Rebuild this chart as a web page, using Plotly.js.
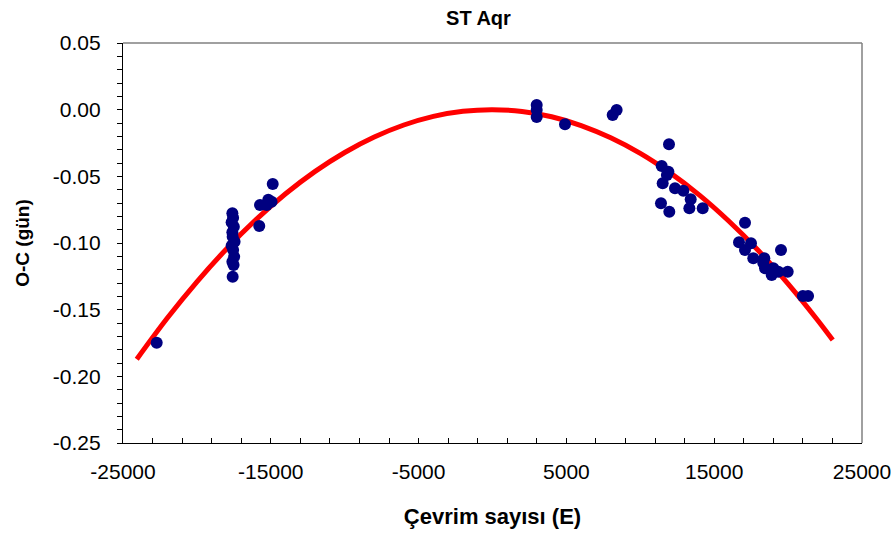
<!DOCTYPE html>
<html>
<head>
<meta charset="utf-8">
<script src="https://cdn.plot.ly/plotly-3.0.1.min.js"></script>
<style>html,body{margin:0;padding:0;background:#fff;}#chart{width:891px;height:536px;}</style>
</head>
<body>
<div id="chart"></div>
<script>
// Observed O-C points (cycle number E, O-C in days)
var obsE = [
  -22720,
  -17600, -17550, -17650, -17500, -17600, -17580, -17450, -17650, -17550, -17480, -17600, -17520, -17580,
  -15780, -15730, -15280, -15170, -14950, -14870,
  2990, 2990, 2990, 4905, 8130, 8400,
  11942, 11448, 11800, 11900, 11515, 12348, 12912, 11400, 11962, 13410, 13320, 14222,
  17084, 16678, 17490, 17084, 17645, 18390, 19520, 18440, 19000, 18890, 19340, 19973, 18320,
  21000, 21350
];
var obsOC = [
  -0.1748,
  -0.0777, -0.0810, -0.0845, -0.0878, -0.0920, -0.0953, -0.0990, -0.1020, -0.1053, -0.1103, -0.1140, -0.1165, -0.1253,
  -0.0873, -0.0715, -0.0715, -0.0675, -0.0690, -0.0557,
  0.0035, -0.0003, -0.0055, -0.0110, -0.0040, -0.0003,
  -0.0260, -0.0423, -0.0490, -0.0465, -0.0552, -0.0590, -0.0608, -0.0702, -0.0765, -0.0672, -0.0740, -0.0740,
  -0.0848, -0.0995, -0.1002, -0.1053, -0.1115, -0.1115, -0.1053, -0.1190, -0.1190, -0.1240, -0.1215, -0.1215, -0.1150,
  -0.1398, -0.1398
];
// Fitted curve
var fitE = [-24070, -22000, -20000, -18000, -16000, -14000, -12000, -10000, -8000, -6000, -4000, -2000, 0,
            2000, 4000, 6000, 8000, 10000, 12000, 14000, 16000, 18000, 20000, 22000, 23020];
var fitOC = [-0.1872, -0.1563, -0.1291, -0.1045, -0.0825, -0.0631, -0.0463, -0.0321, -0.0205, -0.0115, -0.0050, -0.0012, 0.0000,
             -0.0014, -0.0053, -0.0119, -0.0211, -0.0328, -0.0472, -0.0641, -0.0837, -0.1058, -0.1306, -0.1579, -0.1728];

// Tick labels
var xTickVals = [-25000, -15000, -5000, 5000, 15000, 25000];
var xTickText = ['-25000', '-15000', '-5000', '5000', '15000', '25000'];
var yTickVals = [0.05, 0.00, -0.05, -0.10, -0.15, -0.20, -0.25];
var yTickText = ['0.05', '0.00', '-0.05', '-0.10', '-0.15', '-0.20', '-0.25'];

var titleText = 'ST Aqr';
var xTitle = 'Çevrim sayısı (E)';
var yTitle = 'O-C (gün)';

var FONT = 'Liberation Sans, Arial, sans-serif';

var traces = [
  {x: fitE, y: fitOC, type: 'scatter', mode: 'lines',
   line: {color: '#FF0000', width: 5, shape: 'spline'}, hoverinfo: 'skip'},
  {x: obsE, y: obsOC, type: 'scatter', mode: 'markers',
   marker: {color: '#000080', size: 12}}
];

var layout = {
  width: 891, height: 536,
  margin: {l: 123, r: 29, t: 43, b: 93},
  paper_bgcolor: '#ffffff', plot_bgcolor: '#ffffff',
  showlegend: false,
  font: {family: FONT, color: '#000000'},
  title: {text: '<b>' + titleText + '</b>', font: {family: FONT, size: 20, color: '#000'},
          xref: 'container', yref: 'container', x: 0.537, y: 0.966, xanchor: 'center', yanchor: 'middle'},
  xaxis: {
    range: [-25000, 25000],
    tickmode: 'array', tickvals: xTickVals, ticktext: xTickText,
    ticklabeloverflow: 'allow',
    showgrid: false, zeroline: false,
    showline: true, linecolor: '#000', linewidth: 1.2, mirror: false,
    ticks: 'inside', ticklen: 5, tickcolor: '#000',
    minor: {tick0: -25000, dtick: 2000, ticks: 'inside', ticklen: 5, tickcolor: '#000', showgrid: false},
    tickfont: {family: FONT, size: 21, color: '#000'},
    ticklabelstandoff: 10,
    title: {text: '<b>' + xTitle + '</b>', font: {family: FONT, size: 22, color: '#000'}, standoff: 26}
  },
  yaxis: {
    range: [-0.25, 0.05],
    tickmode: 'array', tickvals: yTickVals, ticktext: yTickText,
    ticklabeloverflow: 'allow',
    showgrid: false, zeroline: false,
    showline: true, linecolor: '#000', linewidth: 1.2, mirror: false,
    ticks: 'outside', ticklen: 5, tickcolor: '#000',
    minor: {tick0: 0, dtick: 0.01, ticks: 'outside', ticklen: 5, tickcolor: '#000', showgrid: false},
    tickfont: {family: FONT, size: 21, color: '#000'},
    ticklabelstandoff: 12,
    title: {text: '<b>' + yTitle + '</b>', font: {family: FONT, size: 19, color: '#000'}, standoff: 18}
  },
  shapes: [
    {type: 'line', xref: 'paper', yref: 'paper', x0: 0, x1: 1, y0: 1, y1: 1, line: {color: '#808080', width: 1.5}},
    {type: 'line', xref: 'paper', yref: 'paper', x0: 1, x1: 1, y0: 0, y1: 1, line: {color: '#808080', width: 1.5}}
  ]
};

Plotly.newPlot('chart', traces, layout, {displayModeBar: false, staticPlot: true});
</script>
</body>
</html>
